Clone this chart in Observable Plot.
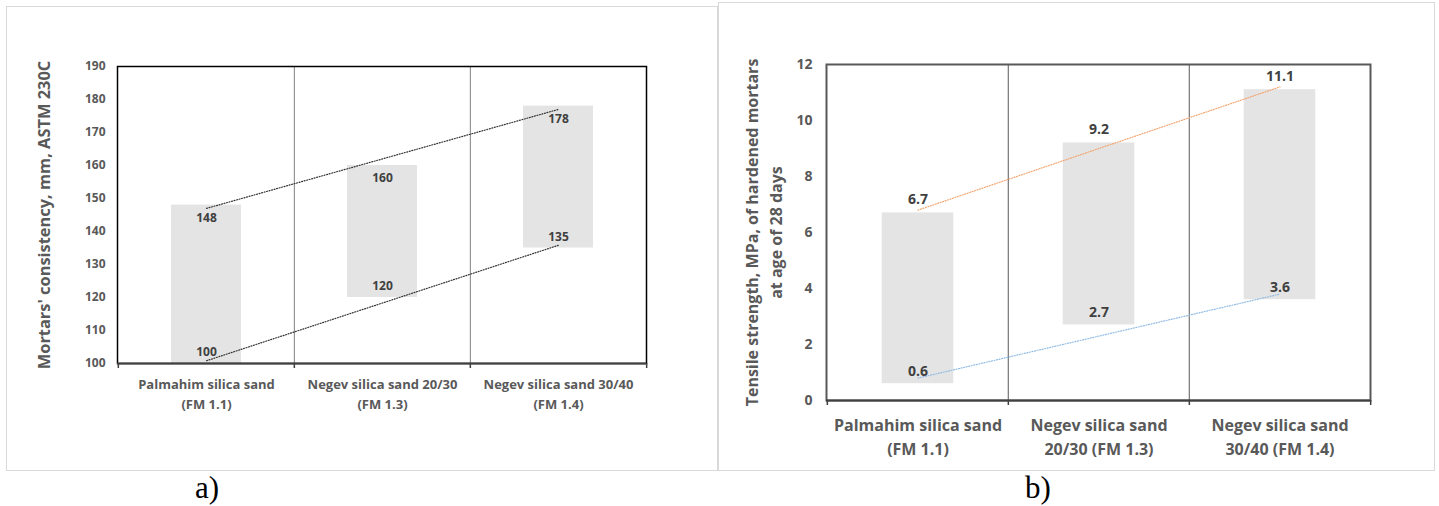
<!DOCTYPE html>
<html><head><meta charset="utf-8">
<script src="https://cdn.jsdelivr.net/npm/d3@7"></script>
<script src="https://cdn.jsdelivr.net/npm/@observablehq/plot@0.6"></script>
<style>
body{margin:0;background:#fff;width:1439px;height:506px;position:relative;overflow:hidden;font-family:"Open Sans",sans-serif}
.box{position:absolute;border:1px solid #d9d9d9;box-sizing:border-box}
#boxA{left:6px;top:6px;width:712px;height:465px}
#boxB{left:718px;top:2px;width:717px;height:469px}
.cap{position:absolute;font-family:"Liberation Serif","Times New Roman",serif;font-size:31px;line-height:1;color:#000}
#svgA{position:absolute;left:7px;top:7px}
#svgB{position:absolute;left:719px;top:3px}
</style></head><body>
<div id="boxA" class="box"></div>
<div id="boxB" class="box"></div>
<div id="svgA"></div>
<div id="svgB"></div>
<div class="cap" style="left:195px;top:472px">a)</div>
<div class="cap" style="left:1025px;top:472px">b)</div>
<script>
// ---- data ----
const categories = ["Palmahim silica sand", "Negev silica sand 20/30", "Negev silica sand 30/40"];
const tickLabelsA = ["Palmahim silica sand\n(FM 1.1)", "Negev silica sand 20/30\n(FM 1.3)", "Negev silica sand 30/40\n(FM 1.4)"];
const tickLabelsB = ["Palmahim silica sand\n(FM 1.1)", "Negev silica sand\n20/30 (FM 1.3)", "Negev silica sand\n30/40 (FM 1.4)"];
const consistencyLow = [100, 120, 135];
const consistencyHigh = [148, 160, 178];
const tensileLow = [0.6, 2.7, 3.6];
const tensileHigh = [6.7, 9.2, 11.1];
const yTicksA = [100, 110, 120, 130, 140, 150, 160, 170, 180, 190];
const yTicksB = [0, 2, 4, 6, 8, 10, 12];
const titleA = "Mortars' consistency, mm, ASTM 230C";
const titleB = "Tensile strength, MPa, of hardened mortars\nat age of 28 days";

// linear trendline (least squares) through a series
function trend(vals) {
  const xs = d3.range(vals.length);
  const mx = d3.mean(xs), my = d3.mean(vals);
  const b = d3.sum(xs, (x, i) => (x - mx) * (vals[i] - my)) / d3.sum(xs, x => (x - mx) ** 2);
  return vals.map((_, i) => my + b * (i - mx));
}

function panel(o) {
  const bw = (o.W - o.ml - o.mr) / categories.length;
  const data = categories.map((c, i) => ({c, lo: o.low[i], hi: o.high[i]}));
  const tHi = trend(o.high).map((v, i) => ({c: categories[i], v}));
  const tLo = trend(o.low).map((v, i) => ({c: categories[i], v}));
  const fmt = c => o.labels[categories.indexOf(c)];
  const y0 = o.domain[0];
  return Plot.plot({
    width: o.W, height: o.H,
    marginLeft: o.ml, marginRight: o.mr, marginTop: o.mt, marginBottom: o.mb,
    style: {fontFamily: "'Open Sans', sans-serif", background: "transparent", overflow: "visible"},
    x: {type: "band", domain: categories, padding: 0, axis: null},
    y: {domain: o.domain, axis: null},
    marks: [
      Plot.barY(data, {x: "c", y1: "lo", y2: "hi", fill: "#e4e4e4", insetLeft: o.inset, insetRight: o.inset}),
      Plot.ruleX(categories.slice(1), {x: d => d, dx: -bw / 2, stroke: o.divColor, strokeWidth: o.divWidth}),
      Plot.line(tHi, {x: "c", y: "v", stroke: o.hiColor, strokeWidth: 1.2, strokeDasharray: "1,1.6"}),
      Plot.line(tLo, {x: "c", y: "v", stroke: o.loColor, strokeWidth: 1.2, strokeDasharray: "1,1.6"}),
      Plot.frame({stroke: o.frameColor, strokeWidth: o.frameWidth}),
      Plot.ruleY([y0], {stroke: "#404040", strokeWidth: 2}),
      Plot.ruleX(categories, {x: d => d, dx: -bw / 2, y1: y0, y2: y0, insetBottom: -5, stroke: "#404040", strokeWidth: 1.5}),
      Plot.ruleX(categories.slice(-1), {x: d => d, dx: bw / 2, y1: y0, y2: y0, insetBottom: -5, stroke: "#404040", strokeWidth: 1.5}),
      Plot.axisY(o.ticks, {tickSize: 0, tickPadding: o.yPad, fontSize: o.tickFont, fontWeight: "bold", fill: "#595959", label: null}),
      Plot.axisX({tickSize: 0, tickPadding: o.xPad, tickFormat: fmt, fontSize: o.xFont, fontWeight: "bold", fill: "#595959", lineHeight: o.xLine, label: null}),
      Plot.text(data, {x: "c", y: "hi", text: d => String(d.hi), dy: o.hiDy, fontSize: o.valFont, fontWeight: "bold", fill: "#404040"}),
      Plot.text(data, {x: "c", y: "lo", text: d => String(d.lo), dy: o.loDy, fontSize: o.valFont, fontWeight: "bold", fill: "#404040"}),
      Plot.text([o.title], {frameAnchor: "left", textAnchor: "middle", lineAnchor: "middle", dx: o.titleDx, rotate: -90, fontSize: o.titleFont, fontWeight: "bold", fill: "#595959", lineHeight: 1.5})
    ]
  });
}

document.getElementById("svgA").append(panel({
  W: 709, H: 462, ml: 110, mr: 70, mt: 59, mb: 106,
  low: consistencyLow, high: consistencyHigh, labels: tickLabelsA, ticks: yTicksA, domain: [100, 190],
  inset: 53, divColor: "#808080", divWidth: 1, frameColor: "#000", frameWidth: 1.5,
  hiColor: "#333333", loColor: "#333333",
  yPad: 12, tickFont: 12, xPad: 11, xFont: 13, xLine: 1.55, valFont: 12,
  hiDy: 13, loDy: -11, title: titleA, titleDx: -75, titleFont: 16.4
}));

document.getElementById("svgB").append(panel({
  W: 714, H: 466, ml: 107, mr: 63, mt: 61, mb: 69,
  low: tensileLow, high: tensileHigh, labels: tickLabelsB, ticks: yTicksB, domain: [0, 12],
  inset: 54.7, divColor: "#7f7f7f", divWidth: 1.3, frameColor: "#595959", frameWidth: 2,
  hiColor: "#f4a46e", loColor: "#8fbbe3",
  yPad: 14, tickFont: 14, xPad: 13, xFont: 16, xLine: 1.5, valFont: 14,
  hiDy: -13, loDy: -12, title: titleB, titleDx: -64.5, titleFont: 16
}));
</script>
</body></html>
